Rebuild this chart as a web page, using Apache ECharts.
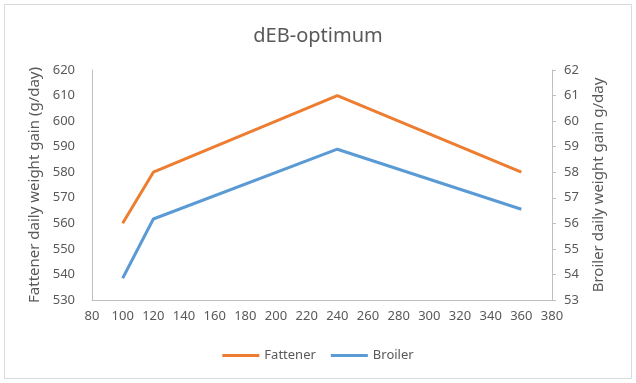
<!DOCTYPE html>
<html><head><meta charset="utf-8">
<script src="https://cdn.jsdelivr.net/npm/echarts@6/dist/echarts.min.js"></script>
<style>html,body{margin:0;padding:0;background:#fff}#c{width:636px;height:383px}</style>
</head><body><div id="c"></div>
<script>
const xValues = [100, 120, 240, 360];
const fattener = [560, 580, 610, 580];
const broiler = [53.85, 56.17, 58.9, 56.55];

const font = 'Noto Sans';
const txt = '#595959';
const axisLine = { show: true, lineStyle: { color: '#bfbfbf', width: 1 } };
const chart = echarts.init(document.getElementById('c'), null, { renderer: 'canvas' });
chart.setOption({
  backgroundColor: '#fff',
  animation: false,
  graphic: [{ type: 'rect', shape: { x: 4.5, y: 4.5, width: 627, height: 374 }, style: { fill: 'none', stroke: '#d9d9d9', lineWidth: 1 }, silent: true }],
  title: { text: 'dEB-optimum', left: 'center', top: 21, textStyle: { fontFamily: font, fontSize: 20, fontWeight: 'normal', color: txt } },
  legend: {
    bottom: 16, left: 'center', itemWidth: 37, itemHeight: 3, itemGap: 15,
    icon: 'rect',
    textStyle: { fontFamily: font, fontSize: 13, color: txt },
    data: ['Fattener', 'Broiler']
  },
  grid: { left: 92, right: 84, top: 70, bottom: 83 },
  xAxis: {
    type: 'value', min: 80, max: 380, interval: 20,
    axisLine: axisLine, axisTick: { show: false }, splitLine: { show: false },
    axisLabel: { fontFamily: font, fontSize: 13, color: txt, margin: 10 }
  },
  yAxis: [
    {
      type: 'value', min: 530, max: 620, interval: 10, position: 'left',
      name: 'Fattener daily weight gain (g/day)', nameLocation: 'middle', nameGap: 41, nameRotate: 90,
      nameTextStyle: { fontFamily: font, fontSize: 15, color: txt },
      axisLine: axisLine, axisTick: { show: false }, splitLine: { show: false },
      axisLabel: { fontFamily: font, fontSize: 13, color: txt, margin: 17 }
    },
    {
      type: 'value', min: 53, max: 62, interval: 1, position: 'right',
      name: 'Broiler daily weight gain g/day', nameLocation: 'middle', nameGap: 39, nameRotate: 90,
      nameTextStyle: { fontFamily: font, fontSize: 15, color: txt },
      axisLine: axisLine, axisTick: { show: true, length: 4, lineStyle: { color: '#bfbfbf' } }, splitLine: { show: false },
      axisLabel: { fontFamily: font, fontSize: 13, color: txt, margin: 12 }
    }
  ],
  series: [
    { name: 'Fattener', type: 'line', yAxisIndex: 0, symbol: 'none', color: '#ED7D31', lineStyle: { width: 3, color: '#ED7D31' },
      data: xValues.map((x, i) => [x, fattener[i]]) },
    { name: 'Broiler', type: 'line', yAxisIndex: 1, symbol: 'none', color: '#5B9BD5', lineStyle: { width: 3, color: '#5B9BD5' },
      data: xValues.map((x, i) => [x, broiler[i]]) }
  ]
});
</script></body></html>
